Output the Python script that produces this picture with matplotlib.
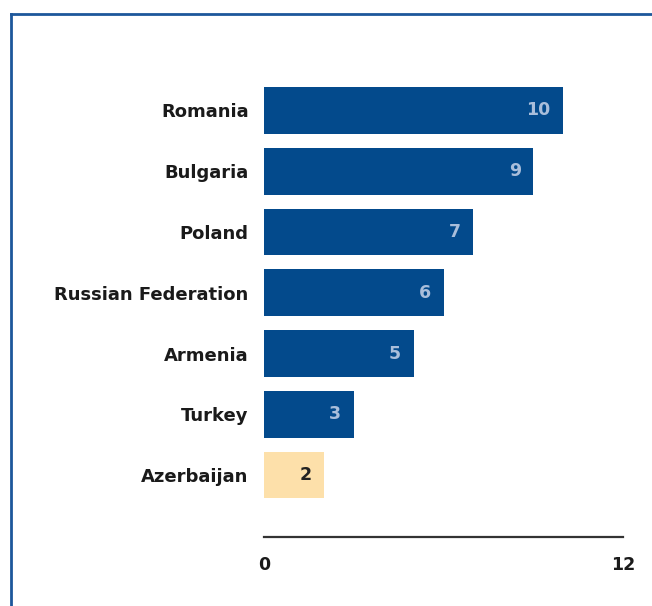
import matplotlib.pyplot as plt
from matplotlib.lines import Line2D

countries = ["Romania", "Bulgaria", "Poland", "Russian Federation", "Armenia", "Turkey", "Azerbaijan"]
values = [10, 9, 7, 6, 5, 3, 2]
highlight = "Azerbaijan"

dark_blue = "#034a8c"
light_orange = "#fde0aa"

plt.rcParams['font.family'] = ['DejaVu Sans']

fig = plt.figure(figsize=(6.52, 6.06), dpi=100)
ax = fig.add_axes([264 / 652, 1 - 537 / 606, (623 - 264) / 652, (537 - 74) / 606])

ypos = list(range(len(countries)))[::-1]
colors = [light_orange if c == highlight else dark_blue for c in countries]
ax.barh(ypos, values, height=0.77, color=colors)

for y, v, c in zip(ypos, values, countries):
    txt_color = "#222222" if c == highlight else "#a9bedb"
    ax.annotate(str(v), (v, y), xytext=(-9, 0), textcoords="offset points",
                ha="right", va="center", fontsize=12.5, fontweight="bold", color=txt_color)

ax.set_xlim(0, 12)
ax.set_ylim(-1.02, 6.6)
ax.set_yticks(ypos)
ax.set_yticklabels(countries, fontsize=13, fontweight="bold", color="#1a1a1a")
ax.set_xticks([0, 12])
ax.set_xticklabels(["0", "12"], fontsize=12.5, fontweight="bold", color="#1a1a1a")
ax.tick_params(axis="y", length=0, pad=11)
ax.tick_params(axis="x", length=0, pad=14)

for s in ["top", "right", "left"]:
    ax.spines[s].set_visible(False)
ax.spines["bottom"].set_color("#333333")
ax.spines["bottom"].set_linewidth(1.6)

# blue frame around the panel (only top and left visible in the crop)
fig.add_artist(Line2D([11 / 652, 1.0], [1 - 14 / 606, 1 - 14 / 606], color="#1d579b", lw=2))
fig.add_artist(Line2D([11 / 652, 11 / 652], [0, 1 - 14 / 606], color="#1d579b", lw=2))

fig.savefig("out.png", dpi=100)
